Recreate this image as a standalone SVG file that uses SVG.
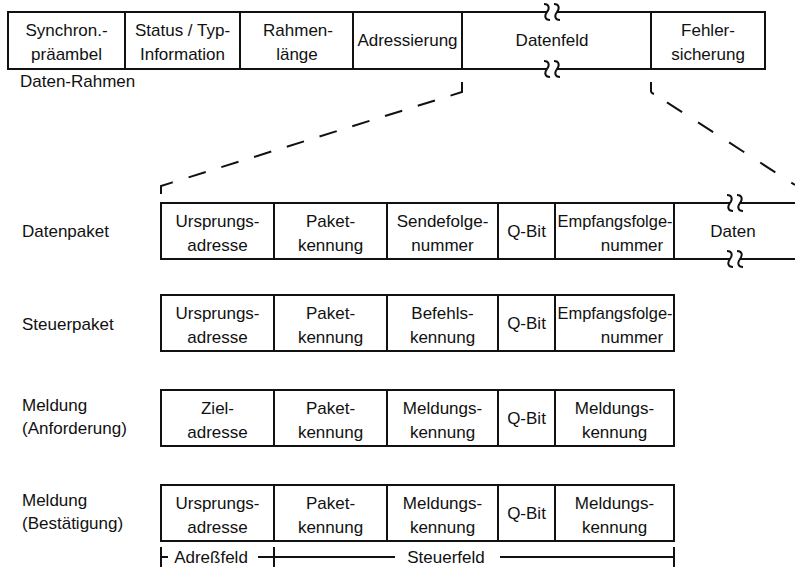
<svg xmlns="http://www.w3.org/2000/svg" xmlns:xlink="http://www.w3.org/1999/xlink" width="795" height="573" viewBox="0 0 795 573">
  <style>
    .box { fill: #ffffff; stroke: #111111; stroke-width: 2; }
    .ln { fill: none; stroke: #111111; stroke-width: 2; }
    .mask { fill: #ffffff; stroke: none; }
    .t { font-family: "Liberation Sans", Arial, sans-serif; font-size: 17px; fill: #111111; text-anchor: middle; }
    .l { text-anchor: start; }
    .dash { fill: none; stroke: #111111; stroke-width: 2; }
  </style>
  <defs>
    <!-- break mark: two wavy strokes across a line -->
    <g id="brk">
      <path class="ln" d="M-8,-8 C-3,-8 -2,-4 -5,0 S-7,8 -2,8"/>
      <path class="ln" d="M2,-8 C7,-8 8,-4 5,0 S3,8 8,8"/>
    </g>
  </defs>
  <rect width="795" height="573" fill="#ffffff"/>

  <!-- Data frame -->
  <g id="frame">
    <g id="f-sync">
      <rect class="box" x="8" y="12" width="117" height="57"/>
      <text class="t" x="66.5" y="36">Synchron.-</text>
      <text class="t" x="66.5" y="60">präambel</text>
    </g>
    <g id="f-status">
      <rect class="box" x="125" y="12" width="115" height="57"/>
      <text class="t" x="182.5" y="36">Status / Typ-</text>
      <text class="t" x="182.5" y="60">Information</text>
    </g>
    <g id="f-len">
      <rect class="box" x="240" y="12" width="113" height="57"/>
      <text class="t" x="298" y="36">Rahmen-</text>
      <text class="t" x="297" y="60">länge</text>
    </g>
    <g id="f-addr">
      <rect class="box" x="353" y="12" width="109" height="57"/>
      <text class="t" x="407.5" y="46">Adressierung</text>
    </g>
    <g id="f-data">
      <rect class="box" x="462" y="12" width="189" height="57"/>
      <rect class="mask" x="547" y="8" width="10" height="8"/>
      <rect class="mask" x="547" y="65" width="10" height="8"/>
      <use xlink:href="#brk" x="552" y="12"/>
      <use xlink:href="#brk" x="552" y="69"/>
      <text class="t" x="552" y="46">Datenfeld</text>
    </g>
    <g id="f-fcs">
      <rect class="box" x="651" y="12" width="114" height="57"/>
      <text class="t" x="708" y="36">Fehler-</text>
      <text class="t" x="708" y="60">sicherung</text>
    </g>
    <text class="t l" x="20" y="87">Daten-Rahmen</text>
  </g>

  <!-- Expansion of the data field -->
  <g id="connectors">
    <path class="ln" d="M462,82 V92 L450.5,95.6"/>
    <path class="dash" d="M450.5,95.6 L172.5,182.4" stroke-dasharray="18 16.3" stroke-dashoffset="18"/>
    <path class="ln" d="M172.5,182.4 L161,186 V194"/>
    <path class="ln" d="M651,82 V91 Q651,93 654,94"/>
    <path class="dash" d="M651,92 L795,185" stroke-dasharray="18 19" stroke-dashoffset="18"/>
  </g>

  <!-- Data packet -->
  <g id="datenpaket">
    <text class="t l" x="22" y="237">Datenpaket</text>
    <g id="dp-src">
      <rect class="box" x="161" y="203" width="113" height="56"/>
      <text class="t" x="217.5" y="227">Ursprungs-</text>
      <text class="t" x="217.5" y="251">adresse</text>
    </g>
    <g id="dp-id">
      <rect class="box" x="274" y="203" width="113" height="56"/>
      <text class="t" x="330.5" y="227">Paket-</text>
      <text class="t" x="330.5" y="251">kennung</text>
    </g>
    <g id="dp-seq">
      <rect class="box" x="387" y="203" width="111" height="56"/>
      <text class="t" x="442.5" y="227">Sendefolge-</text>
      <text class="t" x="442.5" y="251">nummer</text>
    </g>
    <g id="dp-q">
      <rect class="box" x="498" y="203" width="57" height="56"/>
      <text class="t" x="526.5" y="237">Q-Bit</text>
    </g>
    <g id="dp-ack">
      <rect class="box" x="555" y="203" width="119" height="56"/>
      <text class="t" x="615" y="227" textLength="115" lengthAdjust="spacingAndGlyphs">Empfangsfolge-</text>
      <text class="t" x="632" y="251">nummer</text>
    </g>
    <g id="dp-data">
      <path class="ln" d="M674,203 H730 M740,203 H795 M674,259 H730 M740,259 H795"/>
      <use xlink:href="#brk" x="735" y="203"/>
      <use xlink:href="#brk" x="735" y="259"/>
      <text class="t" x="733" y="237">Daten</text>
    </g>
  </g>

  <!-- Control packet -->
  <g id="steuerpaket">
    <text class="t l" x="22" y="330">Steuerpaket</text>
    <g id="sp-src">
      <rect class="box" x="161" y="295" width="113" height="56"/>
      <text class="t" x="217.5" y="319">Ursprungs-</text>
      <text class="t" x="217.5" y="343">adresse</text>
    </g>
    <g id="sp-id">
      <rect class="box" x="274" y="295" width="113" height="56"/>
      <text class="t" x="330.5" y="319">Paket-</text>
      <text class="t" x="330.5" y="343">kennung</text>
    </g>
    <g id="sp-cmd">
      <rect class="box" x="387" y="295" width="111" height="56"/>
      <text class="t" x="442.5" y="319">Befehls-</text>
      <text class="t" x="442.5" y="343">kennung</text>
    </g>
    <g id="sp-q">
      <rect class="box" x="498" y="295" width="57" height="56"/>
      <text class="t" x="526.5" y="329">Q-Bit</text>
    </g>
    <g id="sp-ack">
      <rect class="box" x="555" y="295" width="119" height="56"/>
      <text class="t" x="615" y="319" textLength="115" lengthAdjust="spacingAndGlyphs">Empfangsfolge-</text>
      <text class="t" x="632" y="343">nummer</text>
    </g>
  </g>

  <!-- Message (request) -->
  <g id="meldung-anf">
    <text class="t l" x="22" y="411">Meldung</text>
    <text class="t l" x="22" y="434">(Anforderung)</text>
    <g id="ma-dst">
      <rect class="box" x="161" y="390" width="113" height="56"/>
      <text class="t" x="217.5" y="414">Ziel-</text>
      <text class="t" x="217.5" y="438">adresse</text>
    </g>
    <g id="ma-id">
      <rect class="box" x="274" y="390" width="113" height="56"/>
      <text class="t" x="330.5" y="414">Paket-</text>
      <text class="t" x="330.5" y="438">kennung</text>
    </g>
    <g id="ma-msg">
      <rect class="box" x="387" y="390" width="111" height="56"/>
      <text class="t" x="442.5" y="414">Meldungs-</text>
      <text class="t" x="442.5" y="438">kennung</text>
    </g>
    <g id="ma-q">
      <rect class="box" x="498" y="390" width="57" height="56"/>
      <text class="t" x="526.5" y="424">Q-Bit</text>
    </g>
    <g id="ma-msg2">
      <rect class="box" x="555" y="390" width="119" height="56"/>
      <text class="t" x="614.5" y="414">Meldungs-</text>
      <text class="t" x="614.5" y="438">kennung</text>
    </g>
  </g>

  <!-- Message (confirmation) -->
  <g id="meldung-best">
    <text class="t l" x="22" y="506">Meldung</text>
    <text class="t l" x="22" y="529">(Bestätigung)</text>
    <g id="mb-src">
      <rect class="box" x="161" y="485" width="113" height="56"/>
      <text class="t" x="217.5" y="509">Ursprungs-</text>
      <text class="t" x="217.5" y="533">adresse</text>
    </g>
    <g id="mb-id">
      <rect class="box" x="274" y="485" width="113" height="56"/>
      <text class="t" x="330.5" y="509">Paket-</text>
      <text class="t" x="330.5" y="533">kennung</text>
    </g>
    <g id="mb-msg">
      <rect class="box" x="387" y="485" width="111" height="56"/>
      <text class="t" x="442.5" y="509">Meldungs-</text>
      <text class="t" x="442.5" y="533">kennung</text>
    </g>
    <g id="mb-q">
      <rect class="box" x="498" y="485" width="57" height="56"/>
      <text class="t" x="526.5" y="519">Q-Bit</text>
    </g>
    <g id="mb-msg2">
      <rect class="box" x="555" y="485" width="119" height="56"/>
      <text class="t" x="614.5" y="509">Meldungs-</text>
      <text class="t" x="614.5" y="533">kennung</text>
    </g>
  </g>

  <!-- Field extents -->
  <g id="extents">
    <path class="ln" stroke-width="1.5" d="M161,547 V567 M161,557 H168 M258,557 H395 M274,547 V567 M500,557 H674 M674,547 V567"/>
    <text class="t" x="211" y="563">Adreßfeld</text>
    <text class="t" x="446" y="563">Steuerfeld</text>
  </g>
</svg>
